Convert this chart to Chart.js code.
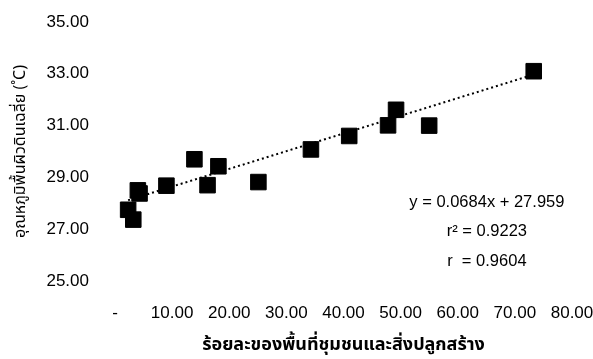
<!DOCTYPE html>
<html>
<head>
<meta charset="utf-8">
<script src="https://cdn.jsdelivr.net/npm/chart.js@4.4.0/dist/chart.umd.min.js"></script>
<style>
  html, body { margin: 0; padding: 0; background: #fff; }
  #wrap { width: 593px; height: 359px; position: relative; }
</style>
</head>
<body>
<div id="wrap"><canvas id="chartScatter"></canvas></div>
<script>
// --- Data ---
const urbanPct = [2.3, 3.2, 4.0, 4.3, 9.0, 13.9, 16.2, 18.1, 25.1, 34.3, 41.0, 47.8, 49.2, 55.0, 73.3];
const surfaceTemp = [27.75, 27.37, 28.50, 28.38, 28.68, 29.70, 28.70, 29.43, 28.82, 30.08, 30.60, 31.01, 31.61, 31.00, 33.10];

// trendline end points (y = 0.0684x + 27.959 over the data range)
const trendX = [2.3, 73.3];
const trendY = [28.12, 32.97];

const statLines = ['y = 0.0684x + 27.959', 'r\u00B2 = 0.9223', 'r  = 0.9604'];
const yTitle = 'อุณหภูมิพื้นผิวดินเฉลี่ย (˚C)';
const xTitle = 'ร้อยละของพื้นที่ชุมชนและสิ่งปลูกสร้าง';

const thaiFont = "'Noto Sans Thai', 'Tahoma', 'Loma', 'Garuda', 'Norasi', 'Liberation Sans', sans-serif";
const numFont = "'Liberation Sans', Arial, sans-serif";

// --- Stats text plugin ---
const statsPlugin = {
    id: 'statsText',
    afterDraw: (chart) => {
        const { ctx, scales: { x, y } } = chart;
        ctx.save();
        ctx.font = '16.5px ' + numFont;
        ctx.fillStyle = '#000';
        ctx.textAlign = 'center';
        ctx.textBaseline = 'middle';
        const cx = x.getPixelForValue(65.1);
        const rows = [28.03, 26.9, 25.74];
        statLines.forEach((t, i) => ctx.fillText(t, cx, y.getPixelForValue(rows[i])));
        ctx.restore();
    }
};

new Chart(document.getElementById('chartScatter'), {
    type: 'scatter',
    data: {
        datasets: [
            {
                data: trendX.map((v, i) => ({ x: v, y: trendY[i] })),
                showLine: true,
                borderColor: '#000',
                borderWidth: 2,
                borderDash: [2, 3],
                pointRadius: 0,
                fill: false,
                order: 2
            },
            {
                data: urbanPct.map((v, i) => ({ x: v, y: surfaceTemp[i] })),
                pointStyle: 'rect',
                pointRadius: 11,
                backgroundColor: '#000',
                borderColor: '#000',
                borderWidth: 1,
                order: 1
            }
        ]
    },
    options: {
        responsive: true,
        maintainAspectRatio: false,
        animation: false,
        layout: { padding: { top: 22, right: 0, bottom: 0, left: 0 } },
        plugins: { legend: { display: false }, tooltip: { enabled: false } },
        scales: {
            x: {
                type: 'linear',
                min: 0, max: 80,
                grid: { display: false, drawTicks: false },
                border: { display: false },
                ticks: {
                    stepSize: 10,
                    padding: 22,
                    color: '#000',
                    font: { family: numFont, size: 17 },
                    maxRotation: 0,
                    callback: (v) => v === 0 ? '-' : v.toFixed(2)
                },
                title: {
                    display: true,
                    text: xTitle,
                    color: '#000',
                    font: { family: thaiFont, size: 18, weight: 'bold' },
                    padding: { top: 0, bottom: 2 }
                },
                // keep the big tick gap out of the chart-area padding
                afterFit: (s) => { s.height = 78; s.paddingLeft = 0; s.paddingRight = 21; }
            },
            y: {
                min: 25, max: 35,
                grid: { display: false, drawTicks: false },
                border: { display: false },
                ticks: {
                    stepSize: 2,
                    padding: 26,
                    color: '#000',
                    font: { family: numFont, size: 17 },
                    callback: (v) => v.toFixed(2)
                },
                title: {
                    display: true,
                    text: yTitle,
                    color: '#000',
                    font: { family: thaiFont, size: 16 },
                    padding: { top: 12, bottom: 0 }
                },
                afterFit: (s) => { s.width = 115; s.paddingTop = 10; s.paddingBottom = 0; }
            }
        }
    },
    plugins: [statsPlugin]
});
</script>
</body>
</html>
